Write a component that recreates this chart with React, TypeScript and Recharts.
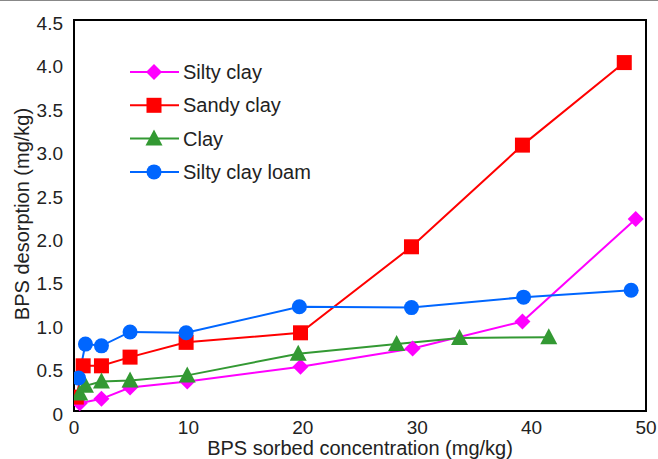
import React from 'react';
import { LineChart, Line, XAxis, YAxis, ReferenceArea } from 'recharts';

// Values
const siltyClayX = [0.5, 2.4, 4.9, 9.9, 19.8, 29.6, 39.2, 49.1];
const siltyClayY = [0.09, 0.14, 0.27, 0.34, 0.51, 0.72, 1.03, 2.21];

const sandyClayX = [0.2, 0.8, 2.4, 4.9, 9.8, 19.8, 29.5, 39.2, 48.1];
const sandyClayY = [0.16, 0.52, 0.52, 0.62, 0.79, 0.9, 1.89, 3.06, 4.01];

const clayX = [0.5, 1.0, 2.4, 4.9, 9.9, 19.6, 28.2, 33.7, 41.5];
const clayY = [0.2, 0.29, 0.34, 0.35, 0.41, 0.66, 0.77, 0.84, 0.85];

const loamX = [0.4, 1.0, 2.4, 4.9, 9.8, 19.7, 29.5, 39.3, 48.7];
const loamY = [0.38, 0.77, 0.75, 0.91, 0.9, 1.2, 1.19, 1.31, 1.39];

const xTicks = [0, 10, 20, 30, 40, 50];
const yTicks = [0, 0.5, 1, 1.5, 2, 2.5, 3, 3.5, 4, 4.5];

const toPoints = (xs: number[], ys: number[]) => xs.map((x, i) => ({ x, y: ys[i] }));

const FONT = '"Liberation Sans", Arial, Helvetica, sans-serif';
const TEXT = '#222222';

type Shape = 'diamond' | 'square' | 'triangle' | 'circle';

const series: { name: string; color: string; shape: Shape; data: { x: number; y: number }[] }[] = [
    { name: 'Silty clay', color: '#FF00FF', shape: 'diamond', data: toPoints(siltyClayX, siltyClayY) },
    { name: 'Sandy clay', color: '#FF0000', shape: 'square', data: toPoints(sandyClayX, sandyClayY) },
    { name: 'Clay', color: '#339933', shape: 'triangle', data: toPoints(clayX, clayY) },
    { name: 'Silty clay loam', color: '#0066FF', shape: 'circle', data: toPoints(loamX, loamY) },
];

const Marker = ({ shape, cx, cy, color }: { shape: Shape; cx: number; cy: number; color: string }) => {
    if (shape === 'diamond') {
        const r = 8;
        return <path d={`M${cx},${cy - r}L${cx + r},${cy}L${cx},${cy + r}L${cx - r},${cy}Z`} fill={color} />;
    }
    if (shape === 'square') {
        return <rect x={cx - 7.5} y={cy - 7.5} width={15} height={15} fill={color} />;
    }
    if (shape === 'triangle') {
        return <path d={`M${cx},${cy - 9}L${cx + 8.5},${cy + 7}L${cx - 8.5},${cy + 7}Z`} fill={color} />;
    }
    return <circle cx={cx} cy={cy} r={7.5} fill={color} />;
};

// legend box drawn on top of the plot, upper left
const LegendBox = () => (
    <svg width={240} height={140} style={{ position: 'absolute', left: 128, top: 58 }}>
        {series.map((s, i) => {
            const y = 14 + i * 33.3;
            return (
                <g key={s.name}>
                    <line x1={2} x2={51} y1={y} y2={y} stroke={s.color} strokeWidth={2} />
                    <Marker shape={s.shape} cx={26} cy={y} color={s.color} />
                    <text x={55} y={y + 7} fontSize={20} fontFamily={FONT} fill={TEXT}>{s.name}</text>
                </g>
            );
        })}
    </svg>
);

const YTitle = () => (
    <text
        transform="translate(29,214) rotate(-90)"
        textAnchor="middle"
        fontSize={20}
        fontFamily={FONT}
        fill={TEXT}
    >
        BPS desorption (mg/kg)
    </text>
);

export default function App() {
    const tick = { fill: TEXT, fontSize: 19, fontFamily: FONT };
    return (
        <div style={{ position: 'absolute', left: 0, top: 0, width: 658, height: 459, background: '#fff', overflow: 'hidden' }}>
            <div style={{ position: 'absolute', left: 0, top: 0, width: 658, height: 1, background: '#888' }} />
            <LineChart width={658} height={459} margin={{ top: 20, right: 12, bottom: 0, left: 0 }}>
                <XAxis
                    dataKey="x"
                    type="number"
                    domain={[0, 50]}
                    ticks={xTicks}
                    tick={{ ...tick, dy: 2 }}
                    tickLine={false}
                    axisLine={{ stroke: '#000', strokeWidth: 2 }}
                    height={48}
                    allowDataOverflow
                    label={{ value: 'BPS sorbed concentration (mg/kg)', position: 'insideBottom', offset: 4, fill: TEXT, fontSize: 20, fontFamily: FONT }}
                />
                <YAxis
                    type="number"
                    domain={[0, 4.5]}
                    ticks={yTicks}
                    tickFormatter={(v: number) => (v === 0 ? '0' : v.toFixed(1))}
                    tick={{ ...tick, dx: -3, dy: 3 }}
                    tickLine={false}
                    axisLine={{ stroke: '#000', strokeWidth: 2 }}
                    width={74}
                    label={<YTitle />}
                />
                <ReferenceArea x1={0} x2={50} y1={0} y2={4.5} fill="none" stroke="#000" strokeWidth={2} ifOverflow="visible" />
                {series.map((s) => (
                    <Line
                        key={s.name}
                        data={s.data}
                        dataKey="y"
                        name={s.name}
                        type="linear"
                        stroke={s.color}
                        strokeWidth={2}
                        isAnimationActive={false}
                        dot={(p: any) => (
                            <Marker key={`${s.name}-${p.index}`} shape={s.shape} cx={p.cx} cy={p.cy} color={s.color} />
                        )}
                        activeDot={false}
                    />
                ))}
            </LineChart>
            <LegendBox />
        </div>
    );
}
